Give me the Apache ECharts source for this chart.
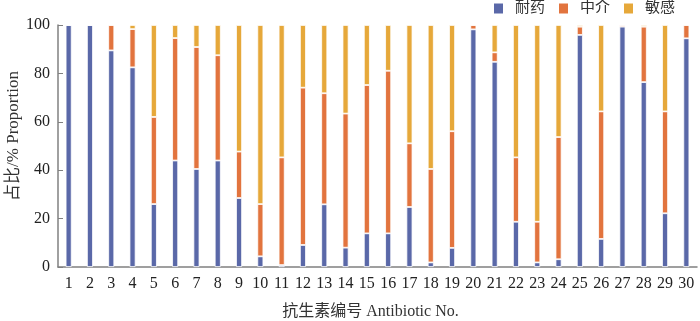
<!DOCTYPE html>
<html>
<head>
<meta charset="utf-8">
<script src="https://cdn.jsdelivr.net/npm/echarts@6/dist/echarts.min.js"></script>
<style>html,body{margin:0;padding:0;background:#fff;}#c{width:700px;height:321px;}</style>
</head>
<body>
<div id="c"></div>
<script>
const categories = ['1','2','3','4','5','6','7','8','9','10','11','12','13','14','15','16','17','18','19','20','21','22','23','24','25','26','27','28','29','30'];
const resistant = [100,100,89.5,82.5,26,44,40.5,44,28.5,4.4,0.8,9.1,25.9,8,13.9,13.9,24.8,1.9,7.9,98.2,84.8,18.7,1.9,3.2,95.9,11.6,99.3,76.4,22.2,94.5];
const intermediate = [0,0,10.5,15.8,36,50.6,50.4,43.5,19.2,21.6,44.5,65,45.9,55.4,61.3,67.2,26.3,38.6,48.2,1.8,3.9,26.6,16.8,50.5,3.4,52.7,0.7,22.9,42.1,5.5];
const sensitive = [0,0,0,1.7,38,5.4,9.1,12.5,52.3,74,54.7,25.9,28.2,36.6,24.8,18.9,48.9,59.5,43.9,0,11.3,54.7,81.3,46.3,0.7,35.7,0,0.7,35.7,0];
const seriesNames = ['耐药','中介','敏感'];
const yTicks = [0,20,40,60,80,100];

const serif = '"Liberation Serif", "Noto Sans CJK SC", serif';
const colors = ['#5A68A8','#E2743E','#E6A83A'];
const data = [resistant, intermediate, sensitive];

const chart = echarts.init(document.getElementById('c'), null, {renderer:'canvas'});
chart.setOption({
  animation:false,
  color: colors,
  textStyle:{fontFamily: serif},
  legend:{
    data: seriesNames,
    right: 20, top: -4,
    itemWidth: 9, itemHeight: 10, itemGap: 14,
    icon: 'rect',
    itemStyle:{borderWidth:0},
    textStyle:{fontSize:15, color:'#333', fontFamily: serif, padding:[0,0,0,7]}
  },
  grid:{left:58, right:3, top:25, bottom:54, containLabel:false, outerBoundsMode:'none'},
  xAxis:{
    type:'category',
    data: categories,
    name:'抗生素编号 Antibiotic No.',
    nameLocation:'middle',
    nameGap: 37,
    nameMoveOverlap:false,
    nameTextStyle:{fontSize:16, color:'#333', fontFamily: serif, padding:[0,14,0,0]},
    axisLine:{lineStyle:{color:'#808080', width:1.5}},
    axisTick:{show:false},
    axisLabel:{fontSize:16, color:'#222', margin:9, interval:0, fontFamily: serif}
  },
  yAxis:{
    type:'value',
    min:0, max:100, interval:20,
    name:'占比/% Proportion',
    nameLocation:'middle',
    nameGap: 36,
    nameMoveOverlap:false,
    nameTextStyle:{fontSize:17, color:'#333', fontFamily: serif, padding:[0,0,0,20]},
    axisLine:{show:true, lineStyle:{color:'#808080', width:1.5}},
    axisTick:{show:true, inside:true, length:5, lineStyle:{color:'#808080'}},
    axisLabel:{fontSize:16, color:'#222', margin:8, fontFamily: serif,
      formatter: v => yTicks.includes(v) ? String(v) : ''},
    splitLine:{show:false}
  },
  series: seriesNames.map((n,i)=>({
    name:n, type:'bar', stack:'total', data:data[i], barWidth:6,
    itemStyle:{color:colors[i], borderColor:'#fff', borderWidth:0.8}
  }))
});
</script>
</body>
</html>
